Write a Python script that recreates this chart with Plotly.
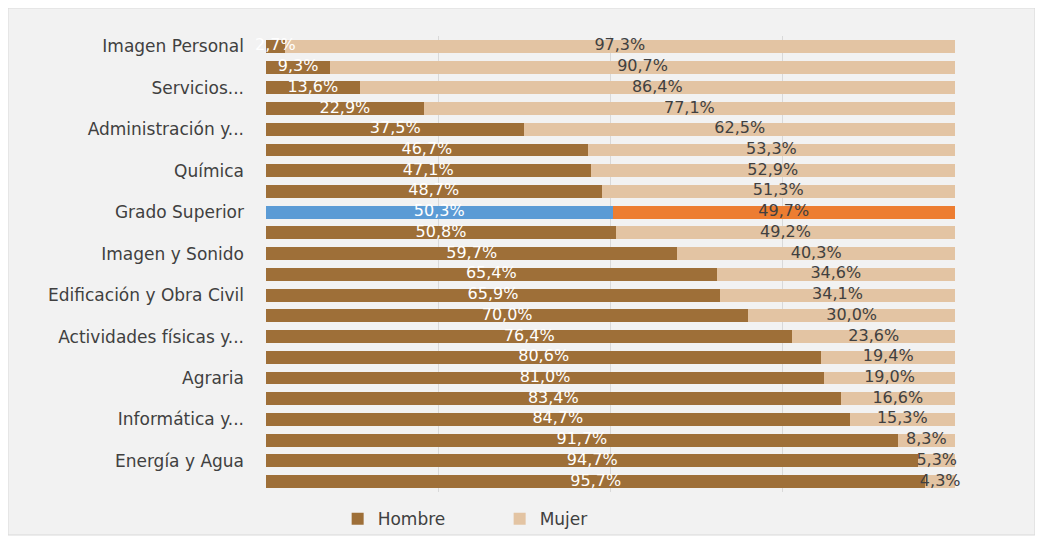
import plotly.graph_objects as go

# rows top to bottom; only every other row carries a visible axis label
labels = ["Imagen Personal", "", "Servicios...", "", "Administración y...", "",
          "Química", "", "Grado Superior", "", "Imagen y Sonido", "",
          "Edificación y Obra Civil", "", "Actividades físicas y...", "",
          "Agraria", "", "Informática y...", "", "Energía y Agua", ""]
hombre = [2.7, 9.3, 13.6, 22.9, 37.5, 46.7, 47.1, 48.7, 50.3, 50.8, 59.7,
          65.4, 65.9, 70.0, 76.4, 80.6, 81.0, 83.4, 84.7, 91.7, 94.7, 95.7]
mujer = [97.3, 90.7, 86.4, 77.1, 62.5, 53.3, 52.9, 51.3, 49.7, 49.2, 40.3,
         34.6, 34.1, 30.0, 23.6, 19.4, 19.0, 16.6, 15.3, 8.3, 5.3, 4.3]
highlight = "Grado Superior"

rows = list(range(len(labels)))
c_h, c_m = "#9E6F38", "#E3C4A3"
col_h = ["#5B9BD5" if l == highlight else c_h for l in labels]
col_m = ["#ED7D31" if l == highlight else c_m for l in labels]

def pct(v):
    return f"{v:.1f}%".replace(".", ",")

font = "DejaVu Sans"
fig = go.Figure()
fig.add_trace(go.Bar(y=rows, x=hombre, orientation="h", name="Hombre",
                     marker=dict(color=col_h, line_width=0), hoverinfo="skip"))
fig.add_trace(go.Bar(y=rows, x=mujer, orientation="h", name="Mujer",
                     marker=dict(color=col_m, line_width=0), hoverinfo="skip"))

# data labels centred on each segment
fig.add_trace(go.Scatter(y=rows, x=[h / 2 for h in hombre], mode="text",
                         text=[pct(v) for v in hombre], showlegend=False,
                         textfont=dict(color="white", size=16, family=font),
                         hoverinfo="skip", cliponaxis=False))
fig.add_trace(go.Scatter(y=rows, x=[h + m / 2 for h, m in zip(hombre, mujer)],
                         mode="text", text=[pct(v) for v in mujer], showlegend=False,
                         textfont=dict(color="#404040", size=16, family=font),
                         hoverinfo="skip", cliponaxis=False))

# page has an 8px body margin, so the figure is sized to fit inside it
fig.update_layout(
    width=1035, height=533,
    barmode="stack", bargap=0.38,
    paper_bgcolor="white", plot_bgcolor="rgba(0,0,0,0)",
    margin=dict(l=258, r=88, t=28, b=49, autoexpand=False),
    font=dict(family=font, size=17, color="#404040"),
    xaxis=dict(range=[0, 100], tickvals=[0, 25, 50, 75, 100], showticklabels=False,
               showgrid=True, gridcolor="#D9D9D9", gridwidth=1, zeroline=False),
    yaxis=dict(tickvals=rows, ticktext=labels, range=[21.5, -0.5],
               showgrid=False, zeroline=False, ticks="", ticklabelstandoff=21),
    legend=dict(orientation="h", traceorder="normal", x=0.104, xanchor="left",
                y=-0.02, yanchor="top",
                entrywidth=117, entrywidthmode="pixels",
                font=dict(size=17, color="#404040"), bgcolor="rgba(0,0,0,0)"),
    shapes=[dict(type="rect", xref="paper", yref="paper",
                 x0=-0.3745, x1=1.116, y0=-0.0943, y1=1.0614,
                 fillcolor="#F2F2F2", line=dict(color="#D9D9D9", width=1),
                 layer="below")],
)

fig.write_html("out.html")
